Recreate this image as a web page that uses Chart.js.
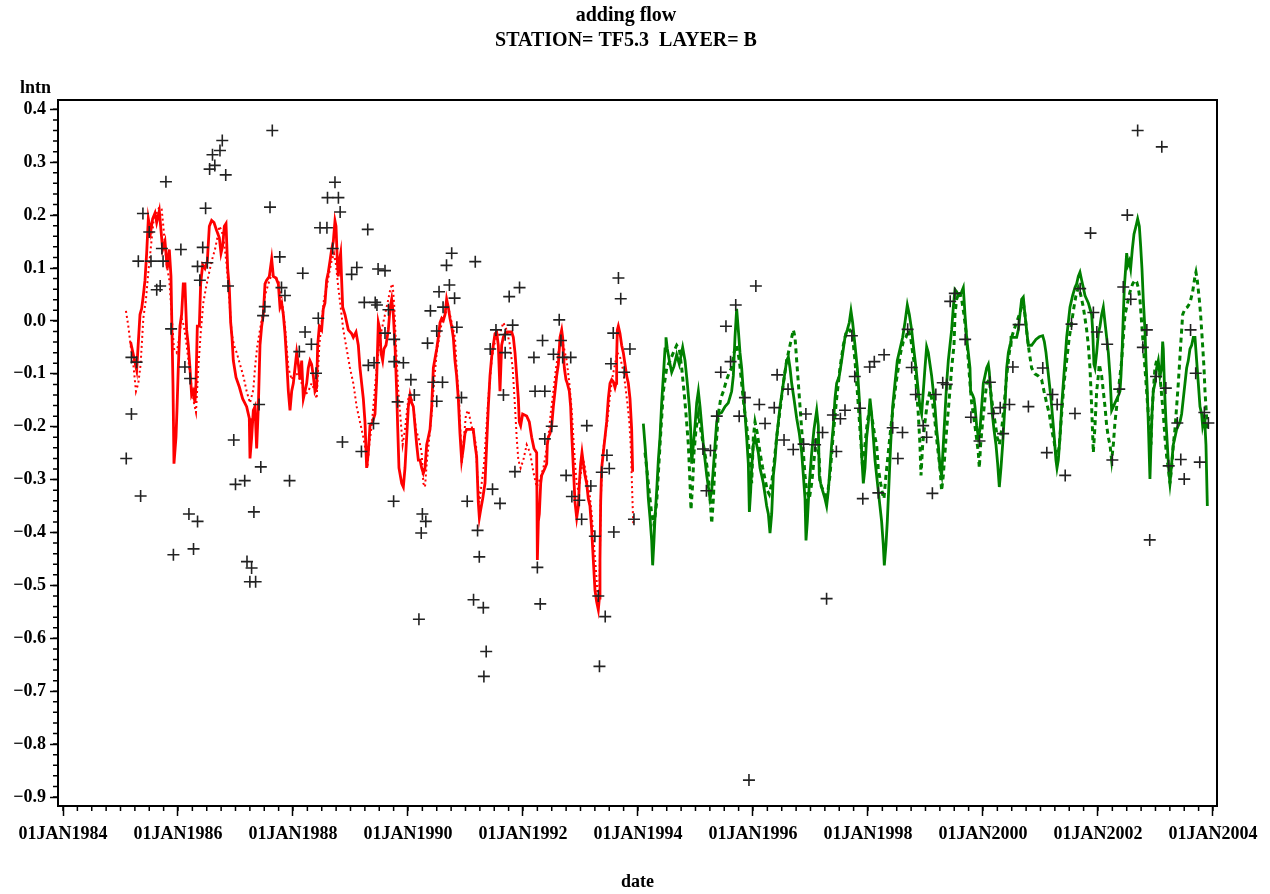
<!DOCTYPE html>
<html>
<head>
<meta charset="utf-8">
<title>adding flow</title>
<script src="https://cdn.jsdelivr.net/npm/chart.js@4.4.1/dist/chart.umd.min.js"></script>
<style>
  html, body { margin: 0; padding: 0; background: #fff; }
  #wrap { width: 1270px; height: 894px; }
</style>
</head>
<body>
<div id="wrap"><canvas id="chart" width="1270" height="894"></canvas></div>
<script>
// titles
const titleText = "adding flow";
const subtitleText = "STATION= TF5.3  LAYER= B";

// axis ticks
const xTickYears = [1984, 1986, 1988, 1990, 1992, 1994, 1996, 1998, 2000, 2002, 2004];
const yTicks = [0.4, 0.3, 0.2, 0.1, 0.0, -0.1, -0.2, -0.3, -0.4, -0.5, -0.6, -0.7, -0.8, -0.9];

// observations (decimal year, lntn)
const obsDates = [
  1986.77, 1986.60, 1986.73, 1986.55, 1986.64, 1986.83, 1985.79, 1986.48, 1985.39, 1985.50,
  1985.31, 1985.53, 1985.74, 1985.72, 1986.05, 1986.43, 1986.34, 1986.51, 1986.38, 1985.63,
  1985.69, 1986.87, 1985.88, 1985.19, 1985.28, 1986.12, 1986.21, 1985.19, 1986.97, 1985.10,
  1987.00, 1987.16, 1985.35, 1986.19, 1986.34, 1987.32, 1985.92, 1986.27, 1987.20, 1987.28,
  1987.25, 1987.35,
  1987.64, 1987.60, 1987.77, 1987.80, 1987.86, 1987.51, 1987.48, 1987.41, 1987.44, 1987.94,
  1988.17, 1988.21, 1988.11, 1988.32, 1988.44, 1988.40, 1988.73, 1988.60, 1988.79, 1988.82,
  1988.47, 1988.59, 1988.69, 1989.30, 1989.11, 1989.02, 1989.48, 1989.60, 1989.24, 1989.43,
  1989.46, 1989.66, 1989.60, 1989.76, 1989.31, 1989.41, 1989.76, 1989.82, 1988.86, 1989.19,
  1989.40, 1989.75,
  1990.76, 1990.67, 1991.17, 1990.72, 1990.54, 1990.81, 1990.61, 1990.39, 1990.85, 1990.50,
  1990.34, 1989.92, 1990.05, 1990.11, 1990.44, 1990.60, 1990.50, 1990.93, 1990.25, 1990.31,
  1990.23, 1990.19, 1991.03, 1991.21, 1991.24, 1991.14, 1991.31, 1991.36, 1991.32, 1991.47,
  1991.60, 1991.43, 1991.53, 1991.69, 1991.69, 1991.82, 1991.76, 1991.94, 1991.66, 1991.86,
  1992.19, 1992.21,
  1992.38, 1992.34, 1992.63, 1992.66, 1992.53, 1992.69, 1992.83, 1992.50, 1992.38, 1992.25,
  1992.30, 1992.75, 1992.85, 1992.98, 1993.02, 1993.11, 1993.18, 1993.25, 1993.31, 1993.43,
  1993.33, 1993.46, 1993.50, 1993.37, 1993.58, 1993.66, 1993.70, 1993.57, 1993.53, 1993.76,
  1993.86, 1993.93,
  1996.05, 1995.70, 1995.53, 1995.44, 1995.61, 1995.37, 1995.76, 1995.86, 1996.11, 1996.21,
  1996.37, 1996.42, 1996.61, 1996.92, 1996.54, 1996.70, 1996.88, 1997.08, 1995.13, 1995.26,
  1995.19, 1995.93,
  1997.21, 1997.39, 1997.52, 1997.60, 1997.45, 1997.28, 1997.72, 1997.77, 1997.86, 1997.91,
  1998.03, 1998.11, 1998.28, 1998.18, 1998.43, 1998.60, 1998.52, 1998.69, 1998.76, 1998.83,
  1998.96, 1999.02, 1999.18, 1999.30, 1999.37, 1999.12, 1999.43, 1999.51,
  1999.69, 1999.79, 1999.94, 2000.12, 2000.18, 2000.30, 2000.46, 2000.35, 2000.52, 2000.62,
  2000.79, 2001.04, 2001.11, 2001.21, 2001.29, 2001.43, 2001.54, 2001.60, 2001.69, 2001.87,
  2001.92, 2001.98,
  2002.16, 2002.25, 2002.37, 2002.51, 2002.44, 2002.57, 2002.69, 2003.11, 2002.85, 2002.78,
  2002.90, 2003.01, 2003.18, 2003.23, 2003.38, 2003.44, 2003.50, 2003.61, 2003.70, 2003.77,
  2003.85, 2003.92
];
const obsValues = [
  0.341, 0.314, 0.322, 0.287, 0.294, 0.276, 0.263, 0.213, 0.203, 0.168,
  0.113, 0.113, 0.113, 0.137, 0.135, 0.139, 0.103, 0.110, 0.077, 0.059,
  0.066, 0.066, -0.015, -0.069, -0.078, -0.087, -0.109, -0.176, -0.225, -0.260,
  -0.309, -0.302, -0.331, -0.365, -0.379, -0.361, -0.442, -0.431, -0.455, -0.467,
  -0.493, -0.493,
  0.360, 0.215, 0.121, 0.063, 0.048, 0.027, 0.010, -0.158, -0.276, -0.302,
  0.090, -0.021, -0.058, -0.044, 0.005, -0.099, 0.262, 0.233, 0.233, 0.206,
  0.176, 0.176, 0.137, 0.173, 0.101, 0.088, 0.098, 0.095, 0.035, 0.035,
  0.030, 0.021, -0.023, -0.035, -0.084, -0.079, -0.077, -0.153, -0.229, -0.247,
  -0.194, -0.341,
  0.128, 0.105, 0.112, 0.068, 0.055, 0.043, 0.026, 0.019, -0.012, -0.019,
  -0.042, -0.079, -0.111, -0.140, -0.116, -0.116, -0.152, -0.145, -0.365, -0.379,
  -0.401, -0.564, -0.341, -0.396, -0.446, -0.527, -0.542, -0.625, -0.672, -0.318,
  -0.345, -0.053, -0.017, -0.026, -0.060, -0.008, 0.046, 0.063, -0.140, -0.285,
  -0.069, -0.133,
  -0.133, -0.037, 0.002, -0.037, -0.063, -0.069, -0.069, -0.199, -0.223, -0.466,
  -0.535, -0.292, -0.332, -0.339, -0.375, -0.198, -0.312, -0.407, -0.520, -0.559,
  -0.653, -0.254, -0.279, -0.286, -0.399, 0.081, 0.042, -0.023, -0.081, -0.097,
  -0.053, -0.375,
  0.066, 0.030, -0.010, -0.097, -0.077, -0.180, -0.180, -0.145, -0.158, -0.194,
  -0.164, -0.102, -0.129, -0.176, -0.225, -0.243, -0.233, -0.234, -0.242, -0.245,
  -0.321, -0.868,
  -0.211, -0.178, -0.185, -0.169, -0.247, -0.525, -0.028, -0.105, -0.165, -0.336,
  -0.087, -0.077, -0.064, -0.325, -0.202, -0.211, -0.260, -0.016, -0.088, -0.139,
  -0.198, -0.220, -0.139, -0.117, -0.120, -0.326, 0.037, 0.052,
  -0.035, -0.182, -0.227, -0.116, -0.175, -0.164, -0.158, -0.213, -0.087, -0.007,
  -0.162, -0.089, -0.249, -0.139, -0.158, -0.292, -0.006, -0.175, 0.061, 0.166,
  0.016, -0.021,
  -0.044, -0.263, -0.129, 0.200, 0.064, 0.041, 0.360, 0.329, -0.017, -0.050,
  -0.414, -0.105, -0.127, -0.274, -0.193, -0.262, -0.299, -0.017, -0.099, -0.267,
  -0.173, -0.193
];

// fitted, 1985-1993, solid red
const redSolidDates = [
  1985.176, 1985.281, 1985.339, 1985.368, 1985.397, 1985.426, 1985.455, 1985.484, 1985.524, 1985.559,
  1985.600, 1985.629, 1985.675, 1985.698, 1985.733, 1985.774, 1985.814, 1985.849, 1985.878, 1985.895,
  1985.913, 1985.930, 1985.965, 1985.982, 1986.005, 1986.034, 1986.063, 1986.092, 1986.121, 1986.150,
  1986.179, 1986.208, 1986.237, 1986.266, 1986.295, 1986.313, 1986.336, 1986.371, 1986.394, 1986.429,
  1986.469, 1986.510, 1986.545, 1986.585, 1986.626, 1986.672, 1986.719, 1986.748, 1986.777, 1986.806,
  1986.835, 1986.864, 1986.892, 1986.916, 1986.939, 1986.962, 1987.009, 1987.067, 1987.124, 1987.194,
  1987.240, 1987.252, 1987.281, 1987.310, 1987.339, 1987.368, 1987.397, 1987.426, 1987.455, 1987.484,
  1987.513, 1987.542, 1987.588, 1987.629, 1987.658, 1987.704, 1987.745, 1987.774, 1987.803, 1987.832,
  1987.861, 1987.890, 1987.919, 1987.948, 1987.977, 1988.006, 1988.035, 1988.064, 1988.093, 1988.122,
  1988.151, 1988.180, 1988.209, 1988.238, 1988.266, 1988.295, 1988.324, 1988.353, 1988.382, 1988.411,
  1988.429, 1988.458, 1988.498, 1988.527, 1988.556, 1988.585, 1988.614, 1988.643, 1988.672, 1988.701,
  1988.730, 1988.748, 1988.771, 1988.788, 1988.806, 1988.829, 1988.846, 1988.864, 1988.904, 1988.962,
  1989.020, 1989.049, 1989.096, 1989.136, 1989.165, 1989.194, 1989.223, 1989.252, 1989.281, 1989.310,
  1989.339, 1989.385, 1989.426, 1989.455, 1989.484, 1989.513, 1989.530, 1989.559, 1989.582, 1989.617,
  1989.658, 1989.687, 1989.716, 1989.745, 1989.774, 1989.803, 1989.820, 1989.843, 1989.890, 1989.919,
  1989.948, 1989.977, 1990.006, 1990.035, 1990.064, 1990.093, 1990.122, 1990.151, 1990.180, 1990.209,
  1990.238, 1990.267, 1990.296, 1990.325, 1990.354, 1990.383, 1990.412, 1990.441, 1990.499, 1990.528,
  1990.557, 1990.586, 1990.615, 1990.644, 1990.672, 1990.701, 1990.730, 1990.759, 1990.788, 1990.817,
  1990.846, 1990.875, 1990.904, 1990.933, 1990.962, 1990.991, 1991.020, 1991.078, 1991.136, 1991.165,
  1991.194, 1991.223, 1991.241, 1991.264, 1991.299, 1991.339, 1991.368, 1991.397, 1991.426, 1991.455,
  1991.484, 1991.513, 1991.542, 1991.571, 1991.600, 1991.629, 1991.658, 1991.704, 1991.751, 1991.803,
  1991.832, 1991.861, 1991.890, 1991.919, 1991.936, 1991.959, 1991.994, 1992.064, 1992.110, 1992.151,
  1992.191, 1992.238, 1992.250, 1992.267, 1992.284, 1992.308, 1992.325, 1992.383, 1992.412, 1992.423,
  1992.441, 1992.470, 1992.499, 1992.528, 1992.557, 1992.586, 1992.615, 1992.644, 1992.673, 1992.690,
  1992.702, 1992.719, 1992.748, 1992.771, 1992.806, 1992.829, 1992.847, 1992.876, 1992.905, 1992.934,
  1992.963, 1992.980, 1993.003, 1993.026, 1993.050, 1993.078, 1993.107, 1993.136, 1993.165, 1993.194,
  1993.223, 1993.252, 1993.281, 1993.310, 1993.328, 1993.339, 1993.351, 1993.368, 1993.397, 1993.426,
  1993.455, 1993.484, 1993.513, 1993.542, 1993.571, 1993.600, 1993.618, 1993.629, 1993.641, 1993.658,
  1993.687, 1993.716, 1993.745, 1993.774, 1993.803, 1993.832, 1993.861, 1993.890, 1993.907
];
const redSolidValues = [
  -0.040, -0.093, 0.012, 0.023, 0.048, 0.077, 0.128, 0.193, 0.168, 0.193,
  0.204, 0.186, 0.208, 0.179, 0.135, 0.150, 0.099, 0.135, 0.084, -0.017,
  -0.122, -0.270, -0.220, -0.169, -0.089, -0.010, 0.012, 0.070, 0.070, -0.017,
  -0.046, -0.089, -0.140, -0.133, -0.155, -0.118, -0.010, -0.010, 0.070, 0.106,
  0.099, 0.113, 0.179, 0.190, 0.186, 0.171, 0.157, 0.128, 0.142, 0.179,
  0.184, 0.099, 0.063, -0.003, -0.031, -0.075, -0.107, -0.125, -0.147, -0.162,
  -0.184, -0.260, -0.220, -0.169, -0.162, -0.241, -0.162, -0.046, -0.010, 0.012,
  0.070, 0.077, 0.084, 0.117, 0.084, 0.081, 0.070, 0.026, 0.034, 0.012,
  -0.024, -0.075, -0.133, -0.169, -0.133, -0.118, -0.089, -0.060, -0.082, -0.111,
  -0.075, -0.147, -0.133, -0.118, -0.089, -0.075, -0.082, -0.104, -0.133, -0.126,
  -0.046, -0.010, -0.017, 0.023, 0.034, 0.077, 0.092, 0.113, 0.135, 0.150,
  0.189, 0.179, 0.113, 0.084, 0.113, 0.128, 0.077, 0.026, 0.012, -0.017,
  -0.024, -0.031, -0.021, -0.046, -0.089, -0.118, -0.147, -0.191, -0.278, -0.249,
  -0.198, -0.191, -0.176, -0.111, -0.003, -0.017, -0.060, -0.075, -0.053, -0.046,
  -0.017, 0.023, 0.041, 0.012, -0.046, -0.133, -0.198, -0.278, -0.307, -0.314,
  -0.278, -0.220, -0.162, -0.140, -0.155, -0.162, -0.198, -0.234, -0.263, -0.263,
  -0.278, -0.288, -0.278, -0.234, -0.220, -0.205, -0.162, -0.089, -0.053, -0.031,
  -0.003, 0.005, 0.001, 0.012, 0.041, 0.026, 0.005, -0.010, -0.031, -0.075,
  -0.104, -0.147, -0.213, -0.263, -0.241, -0.213, -0.205, -0.205, -0.205, -0.234,
  -0.256, -0.343, -0.372, -0.357, -0.336, -0.307, -0.234, -0.162, -0.104, -0.068,
  -0.046, -0.024, -0.021, -0.046, -0.133, -0.046, -0.031, -0.021, -0.021, -0.021,
  -0.031, -0.060, -0.104, -0.147, -0.191, -0.198, -0.176, -0.180, -0.191, -0.220,
  -0.241, -0.249, -0.452, -0.379, -0.365, -0.307, -0.292, -0.278, -0.270, -0.234,
  -0.220, -0.213, -0.198, -0.162, -0.133, -0.104, -0.082, -0.031, -0.017, -0.031,
  -0.060, -0.089, -0.111, -0.118, -0.133, -0.162, -0.213, -0.278, -0.343, -0.372,
  -0.350, -0.307, -0.270, -0.249, -0.270, -0.292, -0.307, -0.336, -0.350, -0.394,
  -0.452, -0.509, -0.531, -0.546, -0.524, -0.452, -0.343, -0.278, -0.249, -0.220,
  -0.191, -0.147, -0.118, -0.111, -0.115, -0.126, -0.118, -0.068, -0.017, -0.010,
  -0.024, -0.046, -0.060, -0.082, -0.104, -0.118, -0.147, -0.205, -0.285
];

// fitted, 1985-1993, dotted red
const redDotDates = [
  1985.095, 1985.136, 1985.176, 1985.223, 1985.269, 1985.310, 1985.350, 1985.397, 1985.443, 1985.484,
  1985.524, 1985.571, 1985.617, 1985.675, 1985.716, 1985.745, 1985.774, 1985.803, 1985.849, 1985.890,
  1985.930, 1985.977, 1986.023, 1986.063, 1986.104, 1986.150, 1986.197, 1986.237, 1986.278, 1986.313,
  1986.353, 1986.394, 1986.440, 1986.487, 1986.527, 1986.585, 1986.643, 1986.684, 1986.719, 1986.759,
  1986.800, 1986.846, 1986.892, 1986.933, 1986.974, 1987.020, 1987.078, 1987.136, 1987.194, 1987.252,
  1987.310, 1987.339, 1987.380, 1987.426, 1987.472, 1987.513, 1987.571, 1987.629, 1987.687, 1987.745,
  1987.803, 1987.861, 1987.919, 1987.977, 1988.035, 1988.093, 1988.151, 1988.209, 1988.266, 1988.324,
  1988.382, 1988.411, 1988.458, 1988.498, 1988.539, 1988.585, 1988.632, 1988.672, 1988.713, 1988.748,
  1988.788, 1988.829, 1988.875, 1988.933, 1988.991, 1989.049, 1989.107, 1989.165, 1989.223, 1989.270,
  1989.293, 1989.327, 1989.368, 1989.409, 1989.455, 1989.501, 1989.542, 1989.600, 1989.658, 1989.699,
  1989.733, 1989.762, 1989.791, 1989.832, 1989.907, 1989.948, 1990.006, 1990.046, 1990.093, 1990.139,
  1990.197, 1990.238, 1990.267, 1990.296, 1990.325, 1990.371, 1990.412, 1990.452, 1990.499, 1990.545,
  1990.586, 1990.644, 1990.701, 1990.759, 1990.817, 1990.846, 1990.893, 1990.922, 1990.933, 1990.962,
  1991.009, 1991.049, 1991.090, 1991.136, 1991.183, 1991.206, 1991.241, 1991.281, 1991.322, 1991.357,
  1991.397, 1991.455, 1991.496, 1991.542, 1991.600, 1991.658, 1991.716, 1991.774, 1991.820, 1991.861,
  1991.890, 1991.919, 1991.959, 1992.006, 1992.064, 1992.122, 1992.180, 1992.238, 1992.296, 1992.354,
  1992.400, 1992.441, 1992.481, 1992.528, 1992.574, 1992.615, 1992.655, 1992.702, 1992.760, 1992.806,
  1992.847, 1992.876, 1992.905, 1992.934, 1992.963, 1992.992, 1993.021, 1993.050, 1993.078, 1993.107,
  1993.154, 1993.194, 1993.235, 1993.270, 1993.299, 1993.328, 1993.339, 1993.351, 1993.386, 1993.426,
  1993.467, 1993.513, 1993.560, 1993.600, 1993.641, 1993.687, 1993.733, 1993.774, 1993.815, 1993.849,
  1993.873, 1993.890, 1993.907, 1993.919
];
const redDotValues = [
  0.019, -0.010, -0.046, -0.082, -0.133, -0.118, -0.082, 0.005, 0.041, 0.092,
  0.135, 0.186, 0.200, 0.215, 0.211, 0.179, 0.142, 0.106, 0.077, 0.012,
  -0.053, -0.060, -0.031, 0.005, -0.010, -0.046, -0.089, -0.126, -0.155, -0.173,
  -0.089, -0.024, 0.034, 0.063, 0.084, 0.113, 0.135, 0.157, 0.179, 0.171,
  0.150, 0.106, 0.041, -0.024, -0.046, -0.060, -0.082, -0.104, -0.133, -0.155,
  -0.130, -0.089, -0.046, -0.017, 0.012, 0.048, 0.070, 0.088, 0.084, 0.077,
  0.041, -0.010, -0.089, -0.111, -0.096, -0.104, -0.118, -0.140, -0.133, -0.118,
  -0.133, -0.147, -0.046, -0.003, 0.041, 0.063, 0.092, 0.113, 0.128, 0.106,
  0.063, 0.026, -0.017, -0.053, -0.089, -0.118, -0.162, -0.191, -0.220, -0.249,
  -0.278, -0.234, -0.198, -0.147, -0.089, -0.046, -0.017, 0.012, 0.041, 0.063,
  0.070, 0.026, -0.046, -0.133, -0.234, -0.205, -0.147, -0.140, -0.162, -0.205,
  -0.227, -0.249, -0.307, -0.314, -0.270, -0.220, -0.176, -0.118, -0.060, -0.031,
  -0.003, 0.012, 0.026, -0.003, -0.031, -0.089, -0.162, -0.234, -0.270, -0.234,
  -0.176, -0.169, -0.191, -0.213, -0.234, -0.292, -0.343, -0.307, -0.270, -0.213,
  -0.147, -0.075, -0.046, -0.031, -0.024, -0.003, -0.017, -0.046, -0.089, -0.162,
  -0.220, -0.263, -0.278, -0.263, -0.234, -0.249, -0.285, -0.314, -0.299, -0.278,
  -0.249, -0.220, -0.176, -0.133, -0.089, -0.060, -0.039, -0.046, -0.075, -0.118,
  -0.169, -0.220, -0.270, -0.307, -0.321, -0.299, -0.278, -0.263, -0.278, -0.299,
  -0.321, -0.365, -0.423, -0.473, -0.524, -0.509, -0.437, -0.343, -0.249, -0.220,
  -0.191, -0.140, -0.104, -0.082, -0.060, -0.068, -0.089, -0.118, -0.155, -0.191,
  -0.234, -0.292, -0.350, -0.386
];

// fitted, 1994-2003, solid green
const greenSolidDates = [
  1994.093, 1994.122, 1994.151, 1994.180, 1994.209, 1994.238, 1994.255, 1994.278, 1994.296, 1994.325,
  1994.354, 1994.383, 1994.412, 1994.441, 1994.470, 1994.487, 1994.510, 1994.545, 1994.586, 1994.626,
  1994.673, 1994.719, 1994.777, 1994.818, 1994.858, 1994.893, 1994.916, 1994.934, 1994.963, 1994.992,
  1995.021, 1995.050, 1995.079, 1995.108, 1995.137, 1995.166, 1995.195, 1995.224, 1995.253, 1995.282,
  1995.311, 1995.340, 1995.369, 1995.398, 1995.456, 1995.514, 1995.571, 1995.629, 1995.658, 1995.687,
  1995.716, 1995.745, 1995.774, 1995.803, 1995.832, 1995.861, 1995.890, 1995.919, 1995.937, 1995.960,
  1995.977, 1996.006, 1996.035, 1996.064, 1996.093, 1996.122, 1996.151, 1996.180, 1996.209, 1996.238,
  1996.267, 1996.296, 1996.325, 1996.354, 1996.383, 1996.412, 1996.470, 1996.528, 1996.586, 1996.615,
  1996.644, 1996.673, 1996.713, 1996.760, 1996.806, 1996.847, 1996.876, 1996.905, 1996.922, 1996.945,
  1996.980, 1997.021, 1997.061, 1997.108, 1997.136, 1997.153, 1997.177, 1997.211, 1997.252, 1997.281,
  1997.310, 1997.339, 1997.368, 1997.397, 1997.426, 1997.455, 1997.501, 1997.542, 1997.571, 1997.600,
  1997.640, 1997.675, 1997.704, 1997.733, 1997.774, 1997.814, 1997.849, 1997.872, 1997.895, 1997.919,
  1997.948, 1997.977, 1998.006, 1998.035, 1998.064, 1998.093, 1998.122, 1998.150, 1998.179, 1998.208,
  1998.237, 1998.266, 1998.284, 1998.313, 1998.336, 1998.371, 1998.394, 1998.429, 1998.469, 1998.510,
  1998.556, 1998.603, 1998.643, 1998.684, 1998.719, 1998.759, 1998.788, 1998.835, 1998.875, 1998.904,
  1998.933, 1998.962, 1998.991, 1999.020, 1999.049, 1999.078, 1999.107, 1999.136, 1999.165, 1999.194,
  1999.223, 1999.252, 1999.281, 1999.310, 1999.339, 1999.368, 1999.397, 1999.426, 1999.455, 1999.484,
  1999.513, 1999.542, 1999.571, 1999.600, 1999.629, 1999.658, 1999.687, 1999.716, 1999.745, 1999.774,
  1999.785, 1999.820, 1999.843, 1999.861, 1999.890, 1999.919, 1999.948, 1999.977, 2000.006, 2000.035,
  2000.064, 2000.093, 2000.110, 2000.133, 2000.162, 2000.191, 2000.226, 2000.255, 2000.284, 2000.313,
  2000.342, 2000.365, 2000.388, 2000.412, 2000.441, 2000.470, 2000.487, 2000.527, 2000.585, 2000.614,
  2000.643, 2000.672, 2000.701, 2000.730, 2000.759, 2000.788, 2000.846, 2000.921, 2000.980, 2001.038,
  2001.067, 2001.096, 2001.125, 2001.154, 2001.183, 2001.212, 2001.240, 2001.269, 2001.287, 2001.310,
  2001.339, 2001.368, 2001.397, 2001.426, 2001.455, 2001.484, 2001.513, 2001.559, 2001.600, 2001.629,
  2001.658, 2001.687, 2001.716, 2001.745, 2001.774, 2001.803, 2001.832, 2001.861, 2001.890, 2001.907,
  2001.930, 2001.948, 2001.977, 2002.006, 2002.035, 2002.064, 2002.093, 2002.122, 2002.151, 2002.180,
  2002.209, 2002.238, 2002.267, 2002.313, 2002.359, 2002.383, 2002.400, 2002.423, 2002.441, 2002.458,
  2002.481, 2002.499, 2002.522, 2002.545, 2002.568, 2002.597, 2002.626, 2002.661, 2002.690, 2002.719,
  2002.742, 2002.765, 2002.788, 2002.817, 2002.835, 2002.858, 2002.881, 2002.904, 2002.922, 2002.939,
  2002.962, 2002.991, 2003.020, 2003.049, 2003.078, 2003.107, 2003.125, 2003.136, 2003.159, 2003.183,
  2003.206, 2003.229, 2003.252, 2003.281, 2003.310, 2003.339, 2003.368, 2003.397, 2003.426, 2003.455,
  2003.484, 2003.513, 2003.542, 2003.571, 2003.600, 2003.629, 2003.658, 2003.687, 2003.716, 2003.745,
  2003.774, 2003.803, 2003.820, 2003.844, 2003.861, 2003.878, 2003.902
];
const greenSolidValues = [
  -0.194, -0.234, -0.278, -0.336, -0.372, -0.415, -0.462, -0.415, -0.372, -0.321,
  -0.263, -0.220, -0.155, -0.104, -0.053, -0.031, -0.053, -0.075, -0.097, -0.086,
  -0.064, -0.082, -0.050, -0.075, -0.118, -0.162, -0.205, -0.270, -0.234, -0.198,
  -0.155, -0.133, -0.162, -0.198, -0.234, -0.263, -0.292, -0.314, -0.336, -0.321,
  -0.278, -0.234, -0.191, -0.176, -0.173, -0.162, -0.155, -0.133, -0.104, -0.031,
  0.023, -0.017, -0.060, -0.089, -0.133, -0.176, -0.220, -0.270, -0.361, -0.321,
  -0.278, -0.234, -0.220, -0.234, -0.249, -0.278, -0.292, -0.307, -0.328, -0.350,
  -0.365, -0.401, -0.365, -0.292, -0.263, -0.220, -0.162, -0.118, -0.075, -0.068,
  -0.089, -0.118, -0.147, -0.184, -0.213, -0.249, -0.292, -0.336, -0.415, -0.379,
  -0.307, -0.249, -0.205, -0.169, -0.198, -0.292, -0.307, -0.321, -0.336, -0.350,
  -0.321, -0.278, -0.234, -0.198, -0.147, -0.118, -0.104, -0.075, -0.053, -0.031,
  -0.017, -0.003, 0.019, -0.003, -0.046, -0.089, -0.147, -0.198, -0.263, -0.307,
  -0.278, -0.220, -0.191, -0.147, -0.176, -0.220, -0.263, -0.292, -0.321, -0.350,
  -0.379, -0.423, -0.462, -0.423, -0.379, -0.292, -0.234, -0.162, -0.118, -0.075,
  -0.053, -0.031, -0.003, 0.030, 0.012, -0.017, -0.046, -0.089, -0.133, -0.162,
  -0.176, -0.133, -0.089, -0.049, -0.060, -0.082, -0.104, -0.133, -0.162, -0.205,
  -0.234, -0.278, -0.292, -0.234, -0.176, -0.118, -0.075, -0.046, -0.017, 0.026,
  0.059, 0.055, 0.048, 0.048, 0.055, 0.063, 0.012, -0.031, -0.060, -0.089,
  -0.133, -0.140, -0.147, -0.162, -0.198, -0.220, -0.205, -0.162, -0.118, -0.104,
  -0.089, -0.082, -0.097, -0.133, -0.176, -0.205, -0.234, -0.270, -0.314, -0.278,
  -0.234, -0.191, -0.147, -0.089, -0.060, -0.046, -0.031, -0.031, -0.031, -0.017,
  0.012, 0.041, 0.045, 0.012, -0.017, -0.046, -0.046, -0.035, -0.030, -0.028,
  -0.039, -0.060, -0.089, -0.118, -0.147, -0.184, -0.220, -0.263, -0.278, -0.263,
  -0.220, -0.162, -0.118, -0.075, -0.031, -0.003, 0.026, 0.048, 0.063, 0.070,
  0.084, 0.092, 0.077, 0.063, 0.048, 0.041, 0.034, 0.023, 0.012, -0.017,
  -0.082, -0.089, -0.060, -0.024, -0.010, 0.012, 0.026, -0.003, -0.031, -0.060,
  -0.104, -0.169, -0.162, -0.151, -0.140, -0.133, -0.104, -0.046, 0.012, 0.063,
  0.099, 0.128, 0.106, 0.113, 0.099, 0.135, 0.164, 0.179, 0.193, 0.179,
  0.142, 0.099, 0.041, -0.017, -0.075, -0.133, -0.213, -0.299, -0.234, -0.176,
  -0.133, -0.118, -0.089, -0.075, -0.104, -0.089, -0.039, -0.053, -0.133, -0.191,
  -0.234, -0.278, -0.307, -0.270, -0.234, -0.220, -0.205, -0.198, -0.191, -0.176,
  -0.147, -0.118, -0.089, -0.075, -0.053, -0.046, -0.031, -0.031, -0.075, -0.118,
  -0.162, -0.176, -0.198, -0.184, -0.198, -0.234, -0.350
];

// fitted, 1994-2003, dashed green
const greenDashDates = [
  1994.122, 1994.180, 1994.238, 1994.278, 1994.325, 1994.383, 1994.441, 1994.499, 1994.557, 1994.615,
  1994.673, 1994.719, 1994.760, 1994.800, 1994.835, 1994.876, 1994.905, 1994.922, 1994.951, 1994.974,
  1995.009, 1995.050, 1995.090, 1995.137, 1995.183, 1995.224, 1995.253, 1995.282, 1995.311, 1995.340,
  1995.369, 1995.398, 1995.438, 1995.485, 1995.542, 1995.589, 1995.629, 1995.670, 1995.716, 1995.763,
  1995.803, 1995.844, 1995.890, 1995.937, 1995.977, 1996.006, 1996.035, 1996.076, 1996.122, 1996.169,
  1996.209, 1996.250, 1996.284, 1996.325, 1996.365, 1996.412, 1996.470, 1996.528, 1996.586, 1996.644,
  1996.702, 1996.731, 1996.760, 1996.789, 1996.818, 1996.847, 1996.876, 1996.905, 1996.934, 1996.980,
  1997.021, 1997.061, 1997.108, 1997.154, 1997.165, 1997.223, 1997.281, 1997.339, 1997.397, 1997.455,
  1997.513, 1997.571, 1997.629, 1997.687, 1997.733, 1997.774, 1997.814, 1997.861, 1997.907, 1997.948,
  1997.988, 1998.035, 1998.081, 1998.122, 1998.150, 1998.179, 1998.220, 1998.255, 1998.278, 1998.313,
  1998.353, 1998.394, 1998.440, 1998.487, 1998.527, 1998.568, 1998.614, 1998.661, 1998.701, 1998.742,
  1998.777, 1998.817, 1998.846, 1998.875, 1998.904, 1998.922, 1998.951, 1998.991, 1999.032, 1999.078,
  1999.124, 1999.165, 1999.205, 1999.252, 1999.281, 1999.310, 1999.339, 1999.368, 1999.414, 1999.455,
  1999.496, 1999.513, 1999.542, 1999.588, 1999.629, 1999.669, 1999.716, 1999.745, 1999.774, 1999.803,
  1999.832, 1999.878, 1999.919, 1999.936, 1999.959, 1999.994, 2000.035, 2000.064, 2000.110, 2000.133,
  2000.168, 2000.209, 2000.249, 2000.284, 2000.325, 2000.365, 2000.412, 2000.458, 2000.499, 2000.539,
  2000.585, 2000.632, 2000.672, 2000.701, 2000.730, 2000.771, 2000.806, 2000.846, 2000.904, 2000.962,
  2001.020, 2001.061, 2001.107, 2001.154, 2001.194, 2001.235, 2001.269, 2001.293, 2001.328, 2001.368,
  2001.409, 2001.455, 2001.501, 2001.542, 2001.582, 2001.617, 2001.658, 2001.687, 2001.716, 2001.745,
  2001.774, 2001.803, 2001.832, 2001.861, 2001.890, 2001.919, 2001.948, 2001.977, 2002.006, 2002.023,
  2002.064, 2002.093, 2002.122, 2002.151, 2002.180, 2002.209, 2002.238, 2002.267, 2002.296, 2002.325,
  2002.354, 2002.383, 2002.412, 2002.441, 2002.470, 2002.499, 2002.528, 2002.557, 2002.603, 2002.644,
  2002.673, 2002.701, 2002.730, 2002.759, 2002.788, 2002.817, 2002.846, 2002.875, 2002.904, 2002.922,
  2002.939, 2002.962, 2002.991, 2003.020, 2003.049, 2003.078, 2003.107, 2003.136, 2003.165, 2003.194,
  2003.223, 2003.252, 2003.281, 2003.310, 2003.339, 2003.368, 2003.397, 2003.438, 2003.473, 2003.513,
  2003.554, 2003.600, 2003.646, 2003.687, 2003.704, 2003.727, 2003.762, 2003.785, 2003.820, 2003.844,
  2003.861, 2003.878, 2003.902
];
const greenDashValues = [
  -0.249, -0.307, -0.365, -0.386, -0.343, -0.234, -0.133, -0.089, -0.075, -0.060,
  -0.046, -0.053, -0.089, -0.133, -0.176, -0.234, -0.307, -0.357, -0.307, -0.249,
  -0.205, -0.176, -0.205, -0.234, -0.263, -0.292, -0.336, -0.383, -0.336, -0.263,
  -0.220, -0.176, -0.147, -0.133, -0.111, -0.097, -0.089, -0.060, -0.046, -0.075,
  -0.118, -0.162, -0.198, -0.249, -0.307, -0.220, -0.191, -0.213, -0.249, -0.278,
  -0.299, -0.321, -0.328, -0.307, -0.270, -0.220, -0.169, -0.118, -0.075, -0.046,
  -0.017, -0.031, -0.075, -0.118, -0.162, -0.205, -0.249, -0.292, -0.321, -0.336,
  -0.307, -0.263, -0.220, -0.263, -0.307, -0.321, -0.339, -0.292, -0.213, -0.147,
  -0.089, -0.046, -0.017, -0.017, -0.031, -0.075, -0.133, -0.205, -0.278, -0.234,
  -0.191, -0.162, -0.191, -0.220, -0.234, -0.278, -0.307, -0.328, -0.336, -0.292,
  -0.249, -0.205, -0.162, -0.118, -0.089, -0.060, -0.039, -0.031, -0.017, -0.031,
  -0.060, -0.089, -0.133, -0.176, -0.234, -0.292, -0.234, -0.191, -0.155, -0.133,
  -0.155, -0.191, -0.234, -0.278, -0.321, -0.292, -0.249, -0.205, -0.147, -0.089,
  -0.046, 0.012, 0.041, 0.055, 0.041, 0.012, -0.031, -0.075, -0.118, -0.155,
  -0.176, -0.213, -0.249, -0.278, -0.234, -0.191, -0.147, -0.118, -0.111, -0.133,
  -0.162, -0.191, -0.220, -0.234, -0.205, -0.162, -0.104, -0.060, -0.031, -0.017,
  -0.003, 0.012, 0.026, 0.034, 0.012, -0.031, -0.060, -0.089, -0.100, -0.104,
  -0.111, -0.133, -0.155, -0.176, -0.205, -0.227, -0.249, -0.263, -0.234, -0.176,
  -0.118, -0.075, -0.031, -0.003, 0.026, 0.048, 0.063, 0.055, 0.041, 0.026,
  0.005, -0.017, -0.046, -0.089, -0.162, -0.249, -0.198, -0.133, -0.104, -0.082,
  -0.104, -0.133, -0.162, -0.198, -0.220, -0.234, -0.263, -0.234, -0.191, -0.162,
  -0.133, -0.104, -0.075, -0.031, 0.012, 0.026, 0.041, 0.055, 0.070, 0.077,
  0.074, 0.063, 0.041, -0.003, -0.046, -0.089, -0.133, -0.176, -0.220, -0.234,
  -0.176, -0.133, -0.089, -0.075, -0.082, -0.104, -0.140, -0.176, -0.220, -0.256,
  -0.278, -0.307, -0.278, -0.234, -0.205, -0.162, -0.118, -0.046, 0.012, 0.023,
  0.026, 0.034, 0.055, 0.084, 0.092, 0.077, 0.041, 0.012, -0.046, -0.089,
  -0.133, -0.162, -0.205
];

function toPoints(xs, ys) {
  return xs.map((x, i) => ({ x: x, y: ys[i] }));
}

const textFont = '"Liberation Serif", "DejaVu Serif", serif';

// frame, minor ticks and the free-standing texts
const sasFrame = {
  id: "sasFrame",
  afterDraw(chart) {
    const ctx = chart.ctx;
    const a = chart.chartArea;
    const xs = chart.scales.x;
    const ys = chart.scales.y;
    ctx.save();
    ctx.strokeStyle = "#000";
    ctx.lineWidth = 2;
    ctx.strokeRect(a.left, a.top, a.right - a.left, a.bottom - a.top);

    // minor ticks: quarters on x, 0.02 on y
    ctx.lineWidth = 1.5;
    ctx.beginPath();
    for (let q = 0; q <= 80; q++) {
      const x = xs.getPixelForValue(1984 + q / 4);
      ctx.moveTo(x, a.bottom);
      ctx.lineTo(x, a.bottom + 5);
    }
    for (let k = -45; k <= 20; k++) {
      const y = ys.getPixelForValue(k / 50);
      ctx.moveTo(a.left, y);
      ctx.lineTo(a.left - 5, y);
    }
    ctx.stroke();

    ctx.fillStyle = "#000";
    ctx.textAlign = "center";
    ctx.textBaseline = "middle";
    ctx.font = "bold 20px " + textFont;
    ctx.fillText(titleText, 626, 16);
    ctx.fillText(subtitleText, 626, 41);
    ctx.textAlign = "left";
    ctx.font = "bold 18px " + textFont;
    ctx.fillText("lntn", 20, 88);
    ctx.restore();
  }
};

const ctx = document.getElementById("chart");
new Chart(ctx, {
  type: "line",
  data: {
    datasets: [
      {
        type: "scatter",
        label: "lntn",
        data: toPoints(obsDates, obsValues),
        pointStyle: "cross",
        pointRadius: 6,
        pointBorderWidth: 1.6,
        borderColor: "#222",
        backgroundColor: "#222",
        showLine: false,
      },
      {
        label: "red solid",
        data: toPoints(redSolidDates, redSolidValues),
        borderColor: "#ff0000",
        borderWidth: 2.8,
        pointRadius: 0,
        tension: 0,
      },
      {
        label: "red dotted",
        data: toPoints(redDotDates, redDotValues),
        borderColor: "#ff0000",
        borderWidth: 2,
        borderDash: [2, 3],
        pointRadius: 0,
        tension: 0,
      },
      {
        label: "green solid",
        data: toPoints(greenSolidDates, greenSolidValues),
        borderColor: "#008000",
        borderWidth: 2.8,
        pointRadius: 0,
        tension: 0,
      },
      {
        label: "green dashed",
        data: toPoints(greenDashDates, greenDashValues),
        borderColor: "#008000",
        borderWidth: 3,
        borderDash: [5, 4],
        pointRadius: 0,
        tension: 0,
      },
    ],
  },
  options: {
    responsive: false,
    animation: false,
    devicePixelRatio: 1,
    layout: { padding: { top: 100, left: 0, right: 53, bottom: 0 } },
    plugins: {
      legend: { display: false },
      tooltip: { enabled: false },
    },
    scales: {
      x: {
        type: "linear",
        min: 1983.913,
        max: 2004.07,
        afterBuildTicks: (scale) => {
          scale.ticks = xTickYears.map((v) => ({ value: v }));
        },
        afterFit: (scale) => {
          scale.height = 88;
        },
        ticks: {
          autoSkip: false,
          maxRotation: 0,
          padding: 8,
          color: "#000",
          font: { family: textFont, size: 18, weight: "bold" },
          callback: (value) => "01JAN" + value,
        },
        grid: {
          drawOnChartArea: false,
          drawTicks: true,
          tickLength: 10,
          tickWidth: 1.5,
          tickColor: "#000",
        },
        border: { display: true, color: "#000", width: 2 },
        title: {
          display: true,
          text: "date",
          color: "#000",
          font: { family: textFont, size: 18, weight: "bold" },
          padding: { top: 0, bottom: 1 },
        },
      },
      y: {
        type: "linear",
        min: -0.917,
        max: 0.4176,
        afterBuildTicks: (scale) => {
          scale.ticks = yTicks.map((v) => ({ value: v }));
        },
        afterFit: (scale) => {
          scale.width = 58;
        },
        ticks: {
          autoSkip: false,
          padding: 4,
          color: "#000",
          font: { family: textFont, size: 18, weight: "bold" },
          callback: (value) => {
            const v = Math.round(value * 10) / 10;
            return v < 0 ? "\u2212" + Math.abs(v).toFixed(1) : v.toFixed(1);
          },
        },
        grid: {
          drawOnChartArea: false,
          drawTicks: true,
          tickLength: 8,
          tickWidth: 1.5,
          tickColor: "#000",
        },
        border: { display: true, color: "#000", width: 2 },
      },
    },
  },
  plugins: [sasFrame],
});
</script>
</body>
</html>
